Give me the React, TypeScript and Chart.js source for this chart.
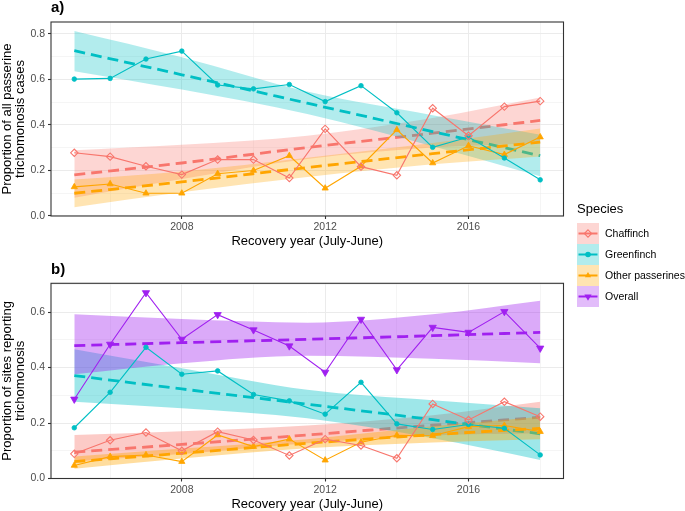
import React, { useEffect, useRef } from "react";
import { Chart, registerables } from "chart.js";

Chart.register(...registerables);

const FONT = "'Liberation Sans', Arial, Helvetica, sans-serif";

// ---------------- data ----------------
const years = [2005, 2006, 2007, 2008, 2009, 2010, 2011, 2012, 2013, 2014, 2015, 2016, 2017, 2018];
const fitYears = [2005, 2008, 2011.5, 2015, 2018];

// panel a) proportion of all passerine trichomonosis cases
const chaffinchA = [0.277, 0.26, 0.218, 0.181, 0.247, 0.247, 0.166, 0.382, 0.216, 0.178, 0.473, 0.352, 0.48, 0.504];
const greenfinchA = [0.601, 0.604, 0.689, 0.724, 0.575, 0.558, 0.577, 0.502, 0.572, 0.453, 0.301, 0.346, 0.254, 0.158];
const otherA = [0.127, 0.14, 0.099, 0.099, 0.185, 0.199, 0.264, 0.121, 0.218, 0.378, 0.232, 0.308, 0.269, 0.346];

const chaffinchFitA = [0.18, 0.232, 0.3, 0.363, 0.419];
const chaffinchUpA = [0.288, 0.312, 0.352, 0.43, 0.52];
const chaffinchLoA = [0.079, 0.162, 0.25, 0.3, 0.32];
const greenfinchFitA = [0.726, 0.62, 0.495, 0.37, 0.264];
const greenfinchUpA = [0.812, 0.697, 0.546, 0.442, 0.356];
const greenfinchLoA = [0.636, 0.555, 0.447, 0.306, 0.174];
const otherFitA = [0.099, 0.149, 0.212, 0.273, 0.324];
const otherUpA = [0.159, 0.195, 0.255, 0.32, 0.384];
const otherLoA = [0.038, 0.103, 0.17, 0.226, 0.261];

// panel b) proportion of sites reporting trichomonosis
const overallB = [0.286, 0.484, 0.67, 0.502, 0.591, 0.536, 0.478, 0.383, 0.574, 0.392, 0.545, 0.527, 0.602, 0.47];
const greenfinchB = [0.183, 0.311, 0.473, 0.376, 0.388, 0.303, 0.28, 0.232, 0.347, 0.197, 0.177, 0.195, 0.181, 0.085];
const chaffinchB = [0.089, 0.138, 0.166, 0.1, 0.169, 0.139, 0.083, 0.142, 0.119, 0.073, 0.269, 0.211, 0.277, 0.223];
const otherB = [0.047, 0.079, 0.085, 0.061, 0.157, 0.115, 0.142, 0.066, 0.131, 0.156, 0.154, 0.187, 0.191, 0.169];

const overallFitB = [0.479, 0.49, 0.502, 0.515, 0.527];
const overallUpB = [0.592, 0.575, 0.562, 0.592, 0.641];
const overallLoB = [0.376, 0.416, 0.443, 0.432, 0.416];
const greenfinchFitB = [0.371, 0.323, 0.268, 0.212, 0.161];
const greenfinchUpB = [0.466, 0.398, 0.32, 0.282, 0.253];
const greenfinchLoB = [0.277, 0.253, 0.217, 0.145, 0.067];
const chaffinchFitB = [0.095, 0.123, 0.157, 0.192, 0.221];
const chaffinchUpB = [0.157, 0.17, 0.191, 0.228, 0.277];
const chaffinchLoB = [0.061, 0.088, 0.127, 0.155, 0.163];
const otherFitB = [0.061, 0.091, 0.127, 0.158, 0.181];
const otherUpB = [0.079, 0.108, 0.142, 0.188, 0.223];
const otherLoB = [0.035, 0.072, 0.109, 0.13, 0.142];

// ticks
const xTicks = [2006, 2008, 2010, 2012, 2014, 2016, 2018];
const xTickLabels = ["", "2008", "", "2012", "", "2016", ""];
const yTicksA = [0, 0.1, 0.2, 0.3, 0.4, 0.5, 0.6, 0.7, 0.8];
const yTicksB = [0, 0.1, 0.2, 0.3, 0.4, 0.5, 0.6, 0.7];

// ---------------- styles ----------------
type Sp = {
  label: string;
  color: string;
  pointStyle: string;
  radius: number;
  rotation: number;
  open: boolean;
};

const CHAFFINCH: Sp = { label: "Chaffinch", color: "#F8766D", pointStyle: "rectRot", radius: 3.7, rotation: 0, open: true };
const GREENFINCH: Sp = { label: "Greenfinch", color: "#00BFC4", pointStyle: "circle", radius: 2.3, rotation: 0, open: false };
const OTHER: Sp = { label: "Other passerines", color: "#FFA500", pointStyle: "triangle", radius: 3.6, rotation: 0, open: false };
const OVERALL: Sp = { label: "Overall", color: "#A020F0", pointStyle: "triangle", radius: 4.2, rotation: 180, open: false };

function rgba(hex: string, a: number) {
  const n = parseInt(hex.slice(1), 16);
  return `rgba(${(n >> 16) & 255},${(n >> 8) & 255},${n & 255},${a})`;
}

type Series = { sp: Sp; values: number[]; fit: number[]; up: number[]; lo: number[] };

function isMajorX(v: number) {
  return Math.round(v) % 4 === 0;
}
function isMajorY(v: number) {
  return Math.round(v * 10) % 2 === 0;
}

function buildDatasets(series: Series[], bandAlpha: number) {
  const ds: any[] = [];
  // observed data lines & points (on top)
  series.forEach((s, i) => {
    ds.push({
      data: years.map((x, j) => ({ x, y: s.values[j] })),
      borderColor: s.sp.color,
      borderWidth: 1.1,
      pointStyle: s.sp.pointStyle,
      pointRadius: s.sp.radius,
      pointRotation: s.sp.rotation,
      pointBackgroundColor: s.sp.open ? "rgba(0,0,0,0)" : s.sp.color,
      pointBorderColor: s.sp.color,
      pointBorderWidth: s.sp.open ? 1.1 : 0.8,
      fill: false,
      tension: 0,
      order: 1 + i,
    });
  });
  // fitted trends with confidence bands, drawn group after group
  series.forEach((s, i) => {
    const base = 100 - i * 10;
    ds.push({
      data: fitYears.map((x, j) => ({ x, y: s.up[j] })),
      borderWidth: 0,
      borderColor: "rgba(0,0,0,0)",
      pointRadius: 0,
      backgroundColor: rgba(s.sp.color, bandAlpha),
      fill: "+1",
      cubicInterpolationMode: "monotone",
      order: base,
    });
    ds.push({
      data: fitYears.map((x, j) => ({ x, y: s.lo[j] })),
      borderWidth: 0,
      borderColor: "rgba(0,0,0,0)",
      pointRadius: 0,
      fill: false,
      cubicInterpolationMode: "monotone",
      order: base,
    });
    ds.push({
      data: fitYears.map((x, j) => ({ x, y: s.fit[j] })),
      borderColor: s.sp.color,
      borderWidth: 2.8,
      borderDash: [11, 6],
      borderCapStyle: "butt",
      pointRadius: 0,
      fill: false,
      cubicInterpolationMode: "monotone",
      order: base - 1,
    });
  });
  return ds;
}

type PanelProps = {
  top: number;
  height: number;
  area: { left: number; right: number; top: number; bottom: number };
  yMin: number;
  yMax: number;
  yTicks: number[];
  series: Series[];
  bandAlpha: number;
  label: string;
  labelBaseline: number;
  yTitle: string[];
  xTitleBaseline: number;
};

const WIDTH = 685;

function Panel(p: PanelProps) {
  const ref = useRef<HTMLCanvasElement | null>(null);
  useEffect(() => {
    if (!ref.current) return;
    const decor = {
      id: "decor",
      afterDraw(chart: any) {
        const { ctx, chartArea: ca } = chart;
        ctx.save();
        ctx.strokeStyle = "#333333";
        ctx.lineWidth = 1.1;
        ctx.strokeRect(ca.left, ca.top, ca.right - ca.left, ca.bottom - ca.top);
        ctx.fillStyle = "#000000";
        // panel label
        ctx.font = `bold 15px ${FONT}`;
        ctx.textAlign = "left";
        ctx.textBaseline = "alphabetic";
        ctx.fillText(p.label, ca.left, p.labelBaseline);
        // x title
        ctx.font = `13px ${FONT}`;
        ctx.textAlign = "center";
        ctx.fillText("Recovery year (July-June)", (ca.left + ca.right) / 2, p.xTitleBaseline);
        // y title (rotated, two lines)
        const cy = (ca.top + ca.bottom) / 2;
        p.yTitle.forEach((t, i) => {
          ctx.save();
          ctx.translate(10.5 + i * 13.5, cy);
          ctx.rotate(-Math.PI / 2);
          ctx.fillText(t, 0, 0);
          ctx.restore();
        });
        ctx.restore();
      },
    };
    const tickFont = { size: 10.5, family: FONT };
    const chart = new Chart(ref.current, {
      type: "line",
      data: { datasets: buildDatasets(p.series, p.bandAlpha) },
      options: {
        animation: false,
        responsive: false,
        devicePixelRatio: 1,
        layout: { padding: { left: 0, top: p.area.top, right: WIDTH - p.area.right, bottom: 0 } },
        plugins: { legend: { display: false }, tooltip: { enabled: false }, title: { display: false } },
        scales: {
          x: {
            type: "linear",
            min: 2004.35,
            max: 2018.65,
            afterBuildTicks: (s: any) => {
              s.ticks = xTicks.map((v) => ({ value: v }));
            },
            afterFit: (s: any) => {
              s.height = p.height - p.area.bottom;
            },
            ticks: {
              autoSkip: false,
              maxRotation: 0,
              minRotation: 0,
              padding: 2,
              color: "#4D4D4D",
              font: tickFont,
              callback: (v: any) => {
                const i = xTicks.indexOf(Number(v));
                return i >= 0 ? xTickLabels[i] : "";
              },
            },
            grid: {
              color: "#EBEBEB",
              lineWidth: (c: any) => (c.tick && isMajorX(c.tick.value) ? 1 : 0.5),
              tickLength: 3,
              tickWidth: 1.1,
              tickColor: (c: any) => (c.tick && isMajorX(c.tick.value) ? "#333333" : "rgba(0,0,0,0)"),
              drawTicks: true,
            },
            border: { display: false },
          },
          y: {
            type: "linear",
            min: p.yMin,
            max: p.yMax,
            afterBuildTicks: (s: any) => {
              s.ticks = p.yTicks.map((v) => ({ value: v }));
            },
            afterFit: (s: any) => {
              s.width = p.area.left;
            },
            ticks: {
              autoSkip: false,
              padding: 3,
              color: "#4D4D4D",
              font: tickFont,
              callback: (v: any) => (isMajorY(Number(v)) ? Number(v).toFixed(1) : ""),
            },
            grid: {
              color: "#EBEBEB",
              lineWidth: (c: any) => (c.tick && isMajorY(c.tick.value) ? 1 : 0.5),
              tickLength: 3,
              tickWidth: 1.1,
              tickColor: (c: any) => (c.tick && isMajorY(c.tick.value) ? "#333333" : "rgba(0,0,0,0)"),
              drawTicks: true,
            },
            border: { display: false },
          },
        },
      } as any,
      plugins: [decor],
    });
    return () => chart.destroy();
  }, []);
  return (
    <canvas
      ref={ref}
      width={WIDTH}
      height={p.height}
      style={{ position: "absolute", left: 0, top: p.top, width: WIDTH, height: p.height, display: "block" }}
    />
  );
}

function Marker({ sp, cx, cy }: { sp: Sp; cx: number; cy: number }) {
  if (sp.pointStyle === "circle") return <circle cx={cx} cy={cy} r={2.8} fill={sp.color} />;
  if (sp.pointStyle === "rectRot") {
    const r = sp.radius;
    return (
      <polygon
        points={`${cx},${cy - r} ${cx + r},${cy} ${cx},${cy + r} ${cx - r},${cy}`}
        fill="none"
        stroke={sp.color}
        strokeWidth={1.1}
      />
    );
  }
  const r = sp.radius;
  const rot = (sp.rotation * Math.PI) / 180;
  const pts = [0, 1, 2]
    .map((k) => {
      const a = rot + (k * 2 * Math.PI) / 3;
      return `${cx + Math.sin(a) * r},${cy - Math.cos(a) * r}`;
    })
    .join(" ");
  return <polygon points={pts} fill={sp.color} />;
}

const legendItems = [CHAFFINCH, GREENFINCH, OTHER, OVERALL];

function Legend() {
  return (
    <div style={{ position: "absolute", left: 577, top: 201, fontFamily: FONT, color: "#000" }}>
      <div style={{ fontSize: 13, lineHeight: "16px", height: 22 }}>Species</div>
      {legendItems.map((sp) => (
        <div key={sp.label} style={{ position: "relative", height: 21, width: 108 }}>
          <svg width={22} height={21} style={{ position: "absolute", left: 0, top: 0 }}>
            <rect x={0} y={0} width={22} height={21} fill={rgba(sp.color, 0.3)} />
            <line x1={1.5} x2={20.5} y1={10.5} y2={10.5} stroke={sp.color} strokeWidth={2} />
            <Marker sp={sp} cx={11} cy={10.5} />
          </svg>
          <span
            style={{
              position: "absolute",
              left: 28,
              top: 0,
              fontSize: 10.5,
              lineHeight: "21px",
              whiteSpace: "nowrap",
            }}
          >
            {sp.label}
          </span>
        </div>
      ))}
    </div>
  );
}

const seriesA: Series[] = [
  { sp: CHAFFINCH, values: chaffinchA, fit: chaffinchFitA, up: chaffinchUpA, lo: chaffinchLoA },
  { sp: GREENFINCH, values: greenfinchA, fit: greenfinchFitA, up: greenfinchUpA, lo: greenfinchLoA },
  { sp: OTHER, values: otherA, fit: otherFitA, up: otherUpA, lo: otherLoA },
];

const seriesB: Series[] = [
  { sp: CHAFFINCH, values: chaffinchB, fit: chaffinchFitB, up: chaffinchUpB, lo: chaffinchLoB },
  { sp: GREENFINCH, values: greenfinchB, fit: greenfinchFitB, up: greenfinchUpB, lo: greenfinchLoB },
  { sp: OTHER, values: otherB, fit: otherFitB, up: otherUpB, lo: otherLoB },
  { sp: OVERALL, values: overallB, fit: overallFitB, up: overallUpB, lo: overallLoB },
];

export default function App() {
  return (
    <div
      style={{
        position: "fixed",
        left: 0,
        top: 0,
        width: WIDTH,
        height: 511,
        background: "#ffffff",
        overflow: "hidden",
      }}
    >
      <Panel
        top={0}
        height={250}
        area={{ left: 51, right: 563.5, top: 22, bottom: 216 }}
        yMin={-0.001}
        yMax={0.852}
        yTicks={yTicksA}
        series={seriesA}
        bandAlpha={0.3}
        label="a)"
        labelBaseline={12}
        yTitle={["Proportion of all passerine", "trichomonosis cases"]}
        xTitleBaseline={245}
      />
      <Panel
        top={250}
        height={261}
        area={{ left: 51, right: 563.5, top: 33.3, bottom: 228.5 }}
        yMin={0}
        yMax={0.704}
        yTicks={yTicksB}
        series={seriesB}
        bandAlpha={0.38}
        label="b)"
        labelBaseline={24}
        yTitle={["Proportion of sites reporting", "trichomonosis"]}
        xTitleBaseline={258}
      />
      <Legend />
    </div>
  );
}
